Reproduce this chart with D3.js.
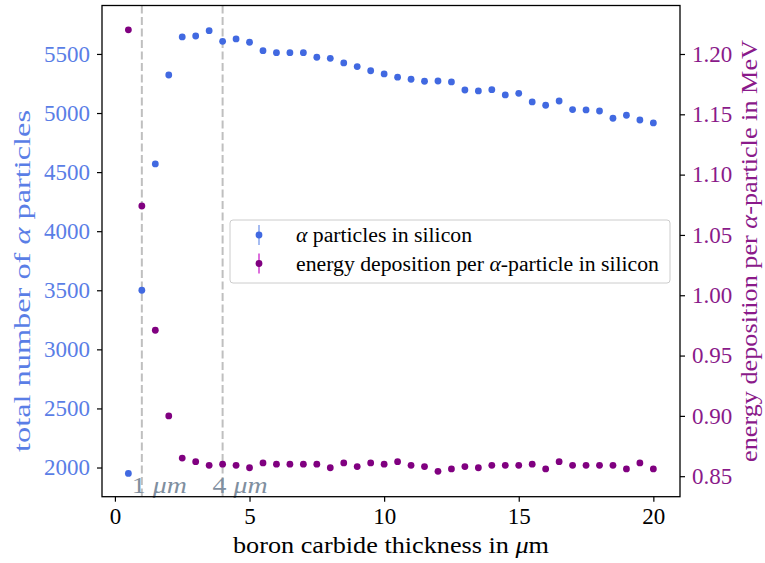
<!DOCTYPE html>
<html>
<head>
<meta charset="utf-8">
<script src="https://cdn.jsdelivr.net/npm/d3@7"></script>
<style>
  body { margin: 0; background: #fff; }
  svg { display: block; }
  text { font-family: "Liberation Serif", "DejaVu Serif", serif; }
</style>
</head>
<body>
<svg id="chart" width="765" height="563"></svg>
<script>
// boron carbide thickness in um
const thickness = [0.5, 1, 1.5, 2, 2.5, 3, 3.5, 4, 4.5, 5, 5.5, 6, 6.5, 7, 7.5, 8, 8.5, 9, 9.5, 10,
  10.5, 11, 11.5, 12, 12.5, 13, 13.5, 14, 14.5, 15, 15.5, 16, 16.5, 17, 17.5, 18, 18.5, 19, 19.5, 20];

// total number of alpha particles reaching silicon
const alphaCounts = [1950, 3500, 4569, 5322, 5644, 5652, 5697, 5607, 5627, 5599, 5528, 5511, 5511, 5511,
  5472, 5463, 5424, 5393, 5358, 5331, 5303, 5286, 5269, 5271, 5263, 5195, 5187, 5198, 5153, 5167,
  5094, 5066, 5102, 5029, 5026, 5017, 4956, 4981, 4941, 4916];

// energy deposition per alpha particle in MeV
const energyDep = [1.220, 1.074, 0.971, 0.900, 0.865, 0.862, 0.859, 0.860, 0.859, 0.857, 0.861, 0.860,
  0.860, 0.860, 0.860, 0.857, 0.861, 0.858, 0.861, 0.860, 0.862, 0.859, 0.858, 0.854, 0.856, 0.858,
  0.857, 0.859, 0.859, 0.859, 0.860, 0.856, 0.862, 0.859, 0.859, 0.859, 0.859, 0.856, 0.861, 0.856];

const xTicks = [0, 5, 10, 15, 20];
const leftTicks = [2000, 2500, 3000, 3500, 4000, 4500, 5000, 5500];
const rightTicks = [0.85, 0.90, 0.95, 1.00, 1.05, 1.10, 1.15, 1.20];
const markerLines = [1, 4];

const blue = "#4169e1";
const purple = "#800080";
const blueText = "#5a7ee6";
const purpleText = "#8a1a8a";

const box = { left: 102, right: 680, top: 5.5, bottom: 496.7 };

const svg = d3.select("#chart");

const x = d3.scaleLinear().domain([-0.48, 20.99]).range([box.left, box.right]);
const yLeft = d3.scaleLinear().domain([1753, 5910]).range([box.bottom, box.top]);
const yRight = d3.scaleLinear().domain([0.833, 1.2402]).range([box.bottom, box.top]);

// the serif we have is narrower than the TeX font, so stretch text a bit
const stretch = (sel, len) => sel.attr("textLength", len).attr("lengthAdjust", "spacingAndGlyphs");

// dashed reference lines
svg.append("g")
    .selectAll("line")
    .data(markerLines)
    .join("line")
    .attr("x1", d => x(d)).attr("x2", d => x(d))
    .attr("y1", box.top).attr("y2", box.bottom)
    .attr("stroke", "#bfbfbf")
    .attr("stroke-width", 2)
    .attr("stroke-dasharray", "8,3.5");

const mlabels = svg.append("g")
    .selectAll("text")
    .data(markerLines)
    .join("text")
    .attr("x", d => x(d) - 10)
    .attr("y", 493)
    .attr("fill", "#7f8fa0")
    .attr("font-size", 23)
    .call(stretch, 55);
mlabels.append("tspan").text(d => d + " ");
mlabels.append("tspan").attr("font-style", "italic").text("μm");

// points
svg.append("g")
    .selectAll("circle")
    .data(thickness)
    .join("circle")
    .attr("cx", d => x(d))
    .attr("cy", (d, i) => yLeft(alphaCounts[i]))
    .attr("r", 3.4)
    .attr("fill", blue);

svg.append("g")
    .selectAll("circle")
    .data(thickness)
    .join("circle")
    .attr("cx", d => x(d))
    .attr("cy", (d, i) => yRight(energyDep[i]))
    .attr("r", 3.4)
    .attr("fill", purple);

// frame
svg.append("rect")
    .attr("x", box.left).attr("y", box.top)
    .attr("width", box.right - box.left).attr("height", box.bottom - box.top)
    .attr("fill", "none").attr("stroke", "#000").attr("stroke-width", 1.3);

// axes
const styleAxis = (g, color) => {
    g.select(".domain").remove();
    g.selectAll(".tick line").attr("stroke", "#000").attr("stroke-width", 1.2);
    g.selectAll(".tick text").attr("fill", color).attr("font-size", 23)
        .style("font-family", "'Liberation Serif', serif");
};

svg.append("g")
    .attr("transform", `translate(0,${box.bottom})`)
    .call(d3.axisBottom(x).tickValues(xTicks).tickSize(5).tickFormat(d3.format("d")))
    .call(g => styleAxis(g, "#000"))
    .call(g => g.selectAll(".tick text").attr("y", 27).attr("dy", 0));

svg.append("g")
    .attr("transform", `translate(${box.left},0)`)
    .call(d3.axisLeft(yLeft).tickValues(leftTicks).tickSize(5).tickPadding(7).tickFormat(d3.format("d")))
    .call(g => styleAxis(g, blueText));

svg.append("g")
    .attr("transform", `translate(${box.right},0)`)
    .call(d3.axisRight(yRight).tickValues(rightTicks).tickSize(5).tickPadding(7).tickFormat(d3.format(".2f")))
    .call(g => styleAxis(g, purpleText));

// axis labels
const xlab = svg.append("text")
    .attr("x", 391).attr("y", 553)
    .attr("text-anchor", "middle")
    .attr("font-size", 23)
    .call(stretch, 316);
xlab.append("tspan").text("boron carbide thickness in ");
xlab.append("tspan").attr("font-style", "italic").text("μ");
xlab.append("tspan").text("m");

const ylabL = svg.append("text")
    .attr("transform", "translate(30,281) rotate(-90)")
    .attr("text-anchor", "middle")
    .attr("fill", blueText)
    .attr("font-size", 23)
    .call(stretch, 342);
ylabL.append("tspan").text("total number of ");
ylabL.append("tspan").attr("font-style", "italic").text("α");
ylabL.append("tspan").text(" particles");

const ylabR = svg.append("text")
    .attr("transform", "translate(757,251) rotate(-90)")
    .attr("text-anchor", "middle")
    .attr("fill", purpleText)
    .attr("font-size", 23)
    .call(stretch, 422);
ylabR.append("tspan").text("energy deposition per ");
ylabR.append("tspan").attr("font-style", "italic").text("α");
ylabR.append("tspan").text("-particle in MeV");

// legend
const legend = svg.append("g").attr("transform", "translate(230,220)");
legend.append("rect")
    .attr("width", 440).attr("height", 63).attr("rx", 3)
    .attr("fill", "#fff").attr("fill-opacity", 0.8)
    .attr("stroke", "#cccccc").attr("stroke-width", 1);

const legendItems = [
    { label: ["", "α", " particles in silicon"], dot: blue, bar: "#a6bcf2", len: 176 },
    { label: ["energy deposition per ", "α", "-particle in silicon"], dot: purple, bar: "#dd6fdd", len: 363 }
];

const item = legend.selectAll("g.item")
    .data(legendItems)
    .join("g")
    .attr("class", "item")
    .attr("transform", (d, i) => `translate(29,${15 + i * 28.5})`);

item.append("line")
    .attr("y1", -10).attr("y2", 10)
    .attr("stroke", d => d.bar).attr("stroke-width", 2);
item.append("circle").attr("r", 3.4).attr("fill", d => d.dot);

const itemText = item.append("text")
    .attr("x", 37).attr("y", 7)
    .attr("font-size", 20)
    .attr("textLength", d => d.len)
    .attr("lengthAdjust", "spacingAndGlyphs");
itemText.append("tspan").text(d => d.label[0]);
itemText.append("tspan").attr("font-style", "italic").text(d => d.label[1]);
itemText.append("tspan").text(d => d.label[2]);
</script>
</body>
</html>
